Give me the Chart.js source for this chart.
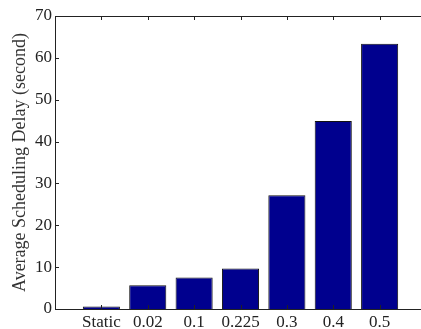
<!DOCTYPE html>
<html>
<head>
<meta charset="utf-8">
<script src="https://cdn.jsdelivr.net/npm/chart.js@4/dist/chart.umd.min.js"></script>
<style>
  html, body { margin: 0; padding: 0; background: #fff; overflow: hidden; }
  #wrap { width: 426px; height: 329px; position: relative; }
</style>
</head>
<body>
<div id="wrap"><canvas id="c"></canvas></div>
<script>
const categories = ["Static", "0.02", "0.1", "0.225", "0.3", "0.4", "0.5"];
const delays = [0.6, 5.7, 7.5, 9.7, 27.2, 44.9, 63.4];
const yTicks = [0, 10, 20, 30, 40, 50, 60, 70];

const axisColor = '#222';
const framePlugin = {
  id: 'frame',
  afterDraw(chart) {
    const { ctx, chartArea: a, scales } = chart;
    ctx.save();
    ctx.strokeStyle = axisColor;
    ctx.lineWidth = 1;
    ctx.beginPath();
    ctx.rect(Math.round(a.left) + 0.5, Math.round(a.top) + 0.5, Math.round(a.right - a.left), Math.round(a.bottom - a.top));
    const tl = 4;
    scales.y.ticks.forEach(t => {
      const y = Math.round(scales.y.getPixelForValue(t.value)) + 0.5;
      ctx.moveTo(a.left, y); ctx.lineTo(a.left + tl, y);
      ctx.moveTo(a.right, y); ctx.lineTo(a.right - tl, y);
    });
    scales.x.ticks.forEach(t => {
      const x = Math.round(scales.x.getPixelForValue(t.value)) + 0.5;
      ctx.moveTo(x, a.top); ctx.lineTo(x, a.top + tl);
      ctx.moveTo(x, a.bottom); ctx.lineTo(x, a.bottom - tl);
    });
    ctx.stroke();
    ctx.restore();
  }
};

new Chart(document.getElementById('c'), {
  type: 'bar',
  data: {
    datasets: [{
      data: delays.map((v, i) => ({ x: i + 1, y: v })),
      backgroundColor: '#00008e',
      borderColor: '#111',
      borderWidth: 1,
      categoryPercentage: 1,
      barPercentage: 0.8
    }]
  },
  options: {
    responsive: true,
    maintainAspectRatio: false,
    animation: false,
    layout: { padding: { top: 16, left: 0, right: 0, bottom: 0 } },
    plugins: { legend: { display: false }, tooltip: { enabled: false } },
    scales: {
      x: {
        type: 'linear',
        min: 0, max: 8,
        offset: false,
        grid: { display: false, drawTicks: false },
        border: { display: false },
        afterBuildTicks: s => { s.ticks = categories.map((c, i) => ({ value: i + 1 })); },
        afterFit: s => { s.height = 20; },
        ticks: {
          autoSkip: false,
          maxRotation: 0,
          padding: 3,
          color: '#222',
          font: { family: 'Liberation Serif', size: 17 },
          callback: v => categories[v - 1]
        }
      },
      y: {
        min: 0, max: 70,
        grid: { display: false, drawTicks: false },
        border: { display: false },
        afterBuildTicks: s => { s.ticks = yTicks.map(v => ({ value: v })); },
        afterFit: s => { s.width = 55; },
        ticks: {
          padding: 3,
          color: '#222',
          font: { family: 'Liberation Serif', size: 17 }
        },
        title: {
          display: true,
          text: 'Average Scheduling Delay (second)',
          color: '#333',
          font: { family: 'Liberation Serif', size: 18 },
          padding: { top: 9, bottom: 0 }
        }
      }
    }
  },
  plugins: [framePlugin]
});
</script>
</body>
</html>
